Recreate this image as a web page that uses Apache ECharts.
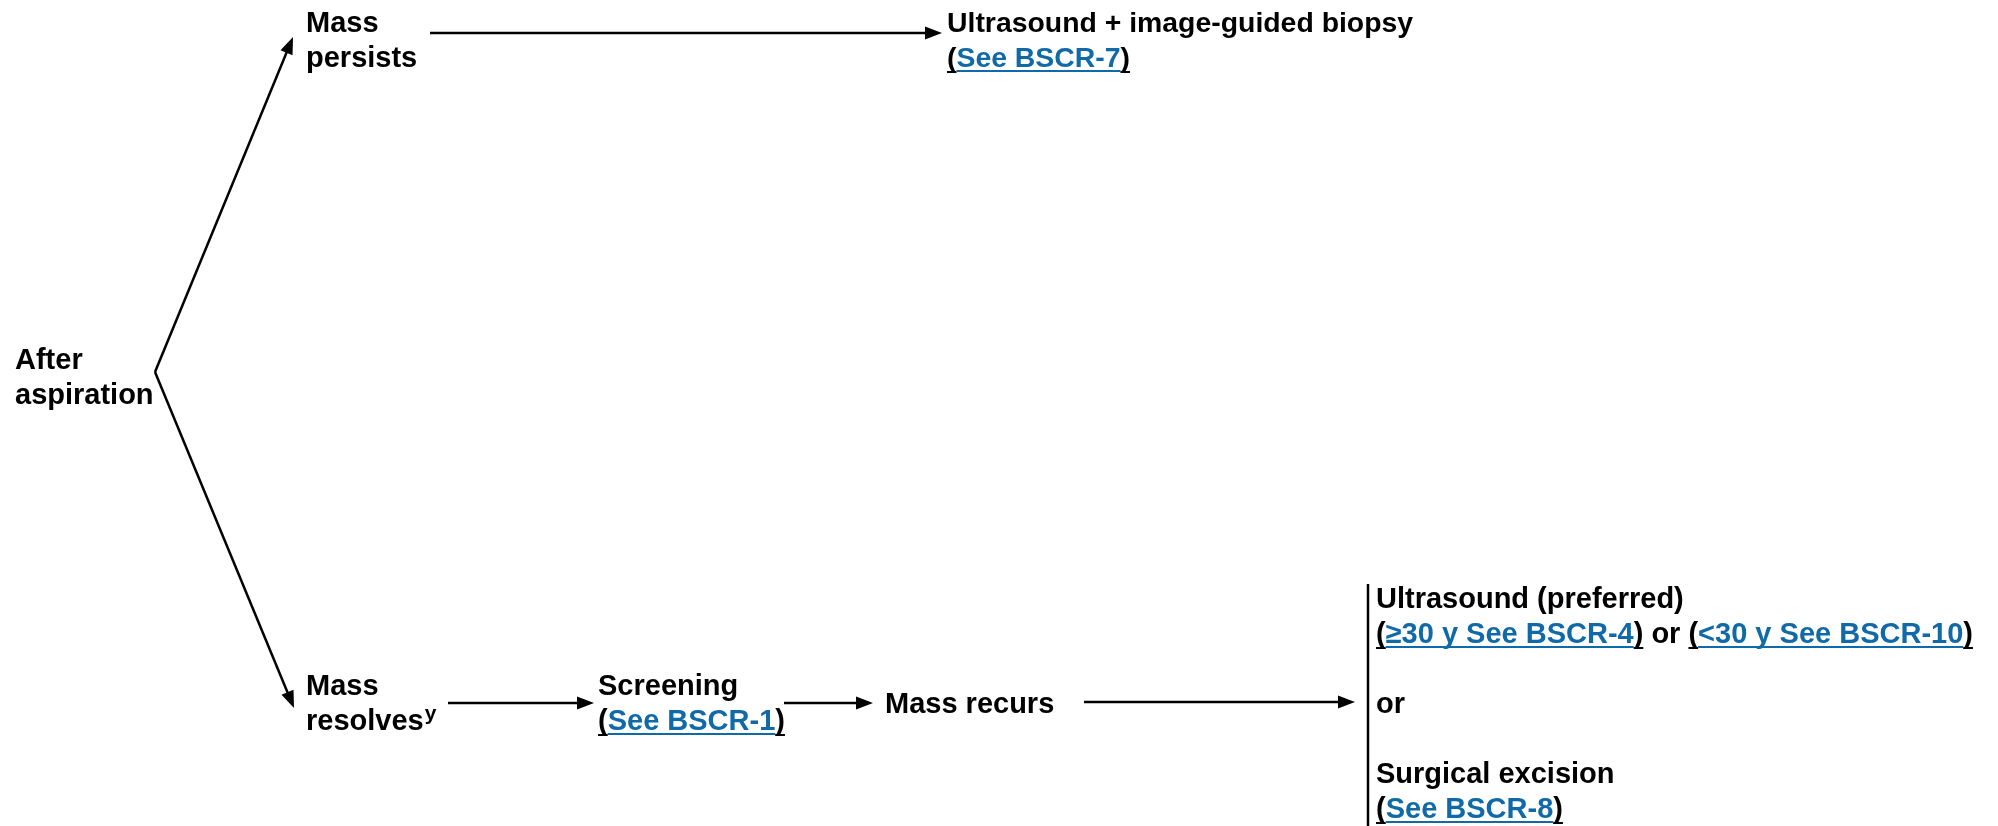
<!DOCTYPE html>
<html>
<head>
<meta charset="utf-8">
<script src="https://cdn.jsdelivr.net/npm/echarts@6/dist/echarts.min.js"></script>
<style>
html,body{margin:0;padding:0;background:#fff;}
#chart{width:1998px;height:826px;}
</style>
</head>
<body>
<div id="chart"></div>
<script>
// ---------- content ----------
// [..] = link text, "(" / ")" hugging a link are underlined, ^c = superscript
const nodeIds = ['after', 'persists', 'biopsy', 'resolves', 'screening', 'recurs', 'options'];
const nodeTexts = [
  'After\naspiration',
  'Mass\npersists',
  'Ultrasound + image-guided biopsy\n([See BSCR-7])',
  'Mass\nresolves^y',
  'Screening\n([See BSCR-1])',
  'Mass recurs',
  'Ultrasound (preferred)\n([≥30 y See BSCR-4]) or ([<30 y See BSCR-10])\n\nor\n\nSurgical excision\n([See BSCR-8])'
];
const edgeFrom = ['after', 'after', 'persists', 'resolves', 'screening', 'recurs'];
const edgeTo   = ['persists', 'resolves', 'biopsy', 'screening', 'recurs', 'options'];

// ---------- layout (value-axis units, axis spans 1998 x 826) ----------
const nodeX        = [15, 306, 947, 306, 598, 885, 1376];
const nodeBaseline = [369, 32, 32, 695, 695, 713, 608];
const nodeFontSize = [29, 29, 28.4, 29, 29, 29, 29];
const edgeStart = [[155, 372], [155, 372], [430, 33], [448, 703], [784, 703], [1084, 702]];
const edgeEnd   = [[293, 37], [294, 708], [942, 33], [594, 703], [873, 703], [1355, 702]];
const bracketX = 1368, bracketTop = 584, bracketBottom = 826;

// ---------- style ----------
const FONT_FAMILY = '"Liberation Sans", Arial, Helvetica, sans-serif';
const SUP_SIZE = 21, LINE_PITCH = 35;
const TEXT_COLOR = '#000000', LINK_COLOR = '#116aa8';
const LINE_W = 2.5, HEAD_LEN = 17, HEAD_HALF = 6.5;

const measureCtx = document.createElement('canvas').getContext('2d');
function textWidth(t, size) {
  measureCtx.font = 'bold ' + size + 'px ' + FONT_FAMILY;
  return measureCtx.measureText(t).width;
}
function parseLine(s) {
  const segs = []; let buf = ''; let i = 0;
  const flush = () => { if (buf) { segs.push({ t: buf, kind: 'n' }); buf = ''; } };
  while (i < s.length) {
    const c = s[i];
    if (c === '(' && s[i + 1] === '[') { flush(); segs.push({ t: '(', kind: 'p' }); i++; continue; }
    if (c === '[') {
      flush();
      const j = s.indexOf(']', i);
      segs.push({ t: s.slice(i + 1, j), kind: 'l' });
      i = j + 1;
      if (s[i] === ')') { segs.push({ t: ')', kind: 'p' }); i++; }
      continue;
    }
    if (c === '^') { flush(); segs.push({ t: s[i + 1], kind: 's' }); i += 2; continue; }
    buf += c; i++;
  }
  flush();
  return segs;
}

const nodeData = nodeIds.map((id, i) => [nodeX[i], nodeBaseline[i], i]);
const edgeData = edgeFrom.map((f, i) => [edgeStart[i][0], edgeStart[i][1], edgeEnd[i][0], edgeEnd[i][1], i]);

function renderNode(params, api) {
  const idx = api.value(2);
  const lines = nodeTexts[idx].split('\n');
  const children = [];
  lines.forEach((line, k) => {
    const p = api.coord([api.value(0), api.value(1) + k * LINE_PITCH]);
    let x = p[0];
    const base = p[1];
    parseLine(line).forEach(seg => {
      const size = seg.kind === 's' ? SUP_SIZE : nodeFontSize[idx];
      const w = textWidth(seg.t, size);
      const sb = seg.kind === 's' ? base - 10 : base;
      children.push({
        type: 'text', x: x + (seg.kind === 's' ? 1 : 0), y: sb - size * 0.28,
        style: {
          text: seg.t, fill: seg.kind === 'l' ? LINK_COLOR : TEXT_COLOR,
          fontSize: size, fontWeight: 'bold', fontFamily: FONT_FAMILY,
          align: 'left', verticalAlign: 'middle'
        },
        silent: true
      });
      if (seg.kind === 'l' || seg.kind === 'p') {
        const uy = base + (seg.kind === 'l' ? 4 : 5);
        children.push({
          type: 'line',
          shape: { x1: x, y1: uy, x2: x + w, y2: uy },
          style: { stroke: seg.kind === 'l' ? LINK_COLOR : TEXT_COLOR, lineWidth: 2 },
          silent: true
        });
      }
      x += w;
    });
  });
  if (nodeIds[idx] === 'options') {
    const a = api.coord([bracketX, bracketTop]);
    const b = api.coord([bracketX, bracketBottom]);
    children.push({ type: 'line', shape: { x1: a[0], y1: a[1], x2: b[0], y2: b[1] },
      style: { stroke: TEXT_COLOR, lineWidth: LINE_W }, silent: true });
  }
  return { type: 'group', children: children };
}

function renderEdge(params, api) {
  const s = api.coord([api.value(0), api.value(1)]);
  const e = api.coord([api.value(2), api.value(3)]);
  const dx = e[0] - s[0], dy = e[1] - s[1];
  const len = Math.sqrt(dx * dx + dy * dy);
  const ux = dx / len, uy = dy / len;
  const bx = e[0] - ux * HEAD_LEN, by = e[1] - uy * HEAD_LEN;
  return {
    type: 'group',
    children: [
      { type: 'line', shape: { x1: s[0], y1: s[1], x2: bx + ux, y2: by + uy },
        style: { stroke: TEXT_COLOR, lineWidth: LINE_W } },
      { type: 'polygon',
        shape: { points: [[e[0], e[1]], [bx - uy * HEAD_HALF, by + ux * HEAD_HALF], [bx + uy * HEAD_HALF, by - ux * HEAD_HALF]] },
        style: { fill: TEXT_COLOR } }
    ]
  };
}

const chart = echarts.init(document.getElementById('chart'), null, { renderer: 'canvas' });
chart.setOption({
  backgroundColor: '#ffffff',
  animation: false,
  grid: { left: 0, right: 0, top: 0, bottom: 0, containLabel: false },
  xAxis: { type: 'value', min: 0, max: 1998, show: false },
  yAxis: { type: 'value', min: 0, max: 826, inverse: true, show: false },
  series: [
    { type: 'custom', name: 'edges', coordinateSystem: 'cartesian2d', clip: false,
      encode: { x: [0, 2], y: [1, 3] }, data: edgeData, renderItem: renderEdge, silent: true },
    { type: 'custom', name: 'nodes', coordinateSystem: 'cartesian2d', clip: false,
      encode: { x: 0, y: 1 }, data: nodeData, renderItem: renderNode, silent: true }
  ]
});
</script>
</body>
</html>
